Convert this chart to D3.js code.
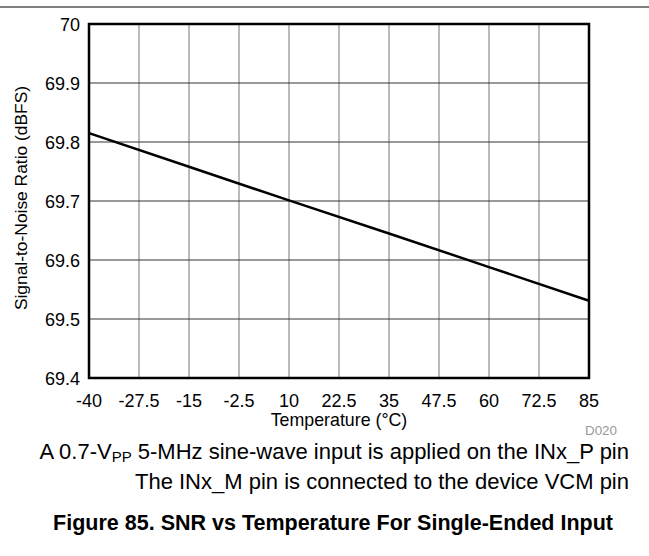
<!DOCTYPE html>
<html><head><meta charset="utf-8">
<script src="https://cdn.jsdelivr.net/npm/d3@7"></script>
<style>body{margin:0;background:#fff;} svg{display:block;font-family:"Liberation Sans",Arial,sans-serif;}</style>
</head><body>
<script>
const temps = [-40, -15, 10, 35, 60, 85];
const snr = [69.815, 69.758, 69.701, 69.645, 69.588, 69.531];
const xTicks = [-40, -27.5, -15, -2.5, 10, 22.5, 35, 47.5, 60, 72.5, 85];
const yTicks = [69.4, 69.5, 69.6, 69.7, 69.8, 69.9, 70];

const W = 649, H = 556;
const m = {l: 89, t: 24, r: 589, b: 378};
const svg = d3.select("body").append("svg").attr("width", W).attr("height", H);

svg.append("line").attr("x1", 0).attr("x2", W).attr("y1", 7).attr("y2", 7)
  .attr("stroke", "#000").attr("stroke-width", 1.2);

const x = d3.scaleLinear().domain([-40, 85]).range([m.l, m.r]);
const y = d3.scaleLinear().domain([69.4, 70]).range([m.b, m.t]);

// grid
svg.append("g").selectAll("line").data(xTicks).join("line")
  .attr("x1", d => x(d)).attr("x2", d => x(d)).attr("y1", m.t).attr("y2", m.b)
  .attr("stroke", "#777").attr("stroke-width", 1);
svg.append("g").selectAll("line").data(yTicks).join("line")
  .attr("x1", m.l).attr("x2", m.r).attr("y1", d => y(d)).attr("y2", d => y(d))
  .attr("stroke", "#333").attr("stroke-width", 1);

// data line
svg.append("path").datum(temps.map((t, i) => [t, snr[i]]))
  .attr("d", d3.line().x(d => x(d[0])).y(d => y(d[1])))
  .attr("fill", "none").attr("stroke", "#000").attr("stroke-width", 2.5);

// frame
svg.append("rect").attr("x", m.l).attr("y", m.t).attr("width", m.r - m.l).attr("height", m.b - m.t)
  .attr("fill", "none").attr("stroke", "#000").attr("stroke-width", 2.5);

// tick labels
svg.append("g").selectAll("text").data(xTicks).join("text")
  .attr("x", d => x(d)).attr("y", 407).attr("text-anchor", "middle")
  .attr("font-size", 18).text(d => d);
svg.append("g").selectAll("text").data(yTicks).join("text")
  .attr("x", 80).attr("y", d => y(d) + 7).attr("text-anchor", "end")
  .attr("font-size", 18).text(d => d3.format("")(+d.toFixed(1)));

// axis titles
svg.append("text").attr("x", 339).attr("y", 426).attr("text-anchor", "middle")
  .attr("font-size", 17.8).text("Temperature (°C)");
svg.append("text").attr("transform", `translate(27,198) rotate(-90)`)
  .attr("text-anchor", "middle").attr("font-size", 17.4).text("Signal-to-Noise Ratio (dBFS)");

svg.append("text").attr("x", 617).attr("y", 435).attr("text-anchor", "end")
  .attr("font-size", 13.4).attr("fill", "#999").text("D020");

const n1 = svg.append("text").attr("x", 629).attr("y", 459).attr("text-anchor", "end").attr("font-size", 22);
n1.append("tspan").text("A 0.7-V");
n1.append("tspan").attr("font-size", 15).attr("dy", 3).text("PP");
n1.append("tspan").attr("dy", -3).text(" 5-MHz sine-wave input is applied on the INx_P pin");
svg.append("text").attr("x", 629).attr("y", 489).attr("text-anchor", "end").attr("font-size", 22)
  .text("The INx_M pin is connected to the device VCM pin");

svg.append("text").attr("x", 613).attr("y", 530).attr("text-anchor", "end").attr("font-size", 21.5)
  .attr("font-weight", "bold").text("Figure 85. SNR vs Temperature For Single-Ended Input");
</script>
</body></html>
